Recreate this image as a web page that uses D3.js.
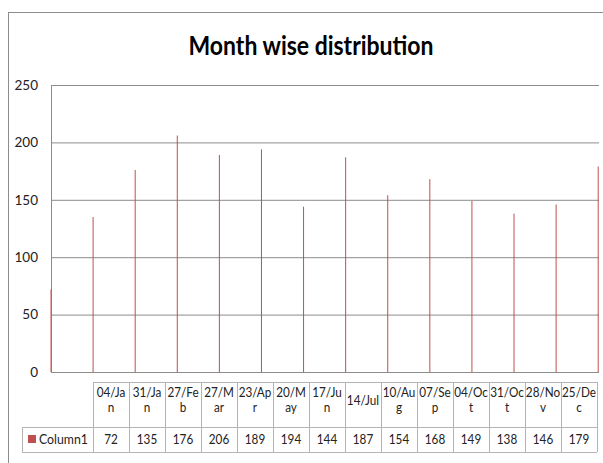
<!DOCTYPE html>
<html>
<head>
<meta charset="utf-8">
<script src="https://cdn.jsdelivr.net/npm/d3@7"></script>
<style>
  body { margin: 0; background: #fff; }
  svg { display: block; }
  text { font-family: Lato, "Open Sans", sans-serif; fill: #222; }
</style>
</head>
<body>
<script>
// chart data
const categories = ['04/Jan', '31/Jan', '27/Feb', '27/Mar', '23/Apr', '20/May', '17/Jun',
                    '14/Jul', '10/Aug', '07/Sep', '04/Oct', '31/Oct', '28/Nov', '25/Dec'];
const values = [72, 135, 176, 206, 189, 194, 144, 187, 154, 168, 149, 138, 146, 179];
const yTicks = [0, 50, 100, 150, 200, 250];
const seriesName = 'Column1';
const title = 'Month wise distribution';

const width = 603, height = 463;
const barColor = '#c0504d';
const gridColor = '#8c8c8c';
const tableColor = '#b4b4b4';
const squeeze = 0.9;     // narrow the table text, the original font is condensed
const wrapScale = 0.937; // width factor used when deciding where labels wrap

const svg = d3.select('body').append('svg')
    .attr('width', width)
    .attr('height', height);

// outer chart border (runs past the right and bottom edge)
svg.append('rect')
    .attr('x', 8.5).attr('y', 12.5)
    .attr('width', 640).attr('height', 500)
    .attr('fill', '#fff')
    .attr('stroke', gridColor)
    .attr('stroke-width', 1);

// title
svg.append('text')
    .attr('x', 311).attr('y', 55)
    .attr('text-anchor', 'middle')
    .attr('font-size', '26px')
    .attr('font-weight', 'bold')
    .attr('textLength', 245)
    .attr('lengthAdjust', 'spacingAndGlyphs')
    .style('fill', '#000')
    .text(title);

// scales
const plot = { left: 51, right: 599, top: 85, bottom: 372 };
const y = d3.scaleLinear().domain([0, 250]).range([plot.bottom, plot.top]);
const x = d3.scalePoint().domain(categories).range([plot.left, plot.right - 0.8]);

// gridlines + y labels
const yAxis = d3.axisLeft(y).tickValues(yTicks).tickSize(-(plot.right - plot.left)).tickPadding(13);
const gy = svg.append('g')
    .attr('transform', `translate(${plot.left},0)`)
    .call(yAxis);
gy.select('.domain').attr('stroke', gridColor);
gy.selectAll('.tick line').attr('stroke', gridColor);
gy.selectAll('.tick text')
    .attr('font-size', '13.5px')
    .attr('font-family', 'Lato, sans-serif')
    .style('fill', '#222');

// bars (hairline columns)
svg.append('g')
    .selectAll('rect')
    .data(values)
    .join('rect')
    .attr('x', (d, i) => x(categories[i]) - 0.5)
    .attr('y', d => y(d))
    .attr('width', 1)
    .attr('height', d => y(0) - y(d))
    .attr('fill', barColor);

// data table
const table = { left: 93, right: 597, top: 382, mid: 427, bottom: 452, legendLeft: 22 };
const col = d3.scaleBand().domain(categories).range([table.left, table.right]);
const tg = svg.append('g').attr('class', 'data-table');

const line = (x1, y1, x2, y2) => tg.append('line')
    .attr('x1', x1).attr('y1', y1).attr('x2', x2).attr('y2', y2)
    .attr('stroke', tableColor).attr('stroke-width', 1);

line(table.left, table.top + 0.5, table.right, table.top + 0.5);
line(table.legendLeft, table.mid + 0.5, table.right, table.mid + 0.5);
line(table.legendLeft, table.bottom + 0.5, table.right, table.bottom + 0.5);
line(table.legendLeft + 0.5, table.mid, table.legendLeft + 0.5, table.bottom);
categories.forEach(c => {
    const cx = Math.round(col(c)) + 0.5;
    line(cx, table.top, cx, table.bottom);
});
line(table.right + 0.5, table.top, table.right + 0.5, table.bottom);

// squeeze a cell text to the narrower width
const fit = t => {
    t.attr('textLength', null);
    const w = t.node().getComputedTextLength();
    t.attr('textLength', w * squeeze).attr('lengthAdjust', 'spacingAndGlyphs');
    return t;
};

const cellText = (cx, cy, str) => tg.append('text')
    .attr('x', cx).attr('y', cy)
    .attr('text-anchor', 'middle')
    .attr('font-size', '13px')
    .text(str);

// header labels, wrapped to the column width like the spreadsheet does
const maxW = col.bandwidth() + 0.3;
categories.forEach(c => {
    const cx = col(c) + col.bandwidth() / 2;
    const t = cellText(cx, 405, c);
    if (t.node().getComputedTextLength() * wrapScale <= maxW) { fit(t); return; }
    let cut = c.length - 1;
    t.text(c.slice(0, cut));
    while (cut > 1 && t.node().getComputedTextLength() * wrapScale > maxW) {
        cut--;
        t.text(c.slice(0, cut));
    }
    fit(t.attr('y', 397));
    fit(cellText(cx, 412, c.slice(cut)));
});

// value row
values.forEach((v, i) => {
    fit(cellText(col(categories[i]) + col.bandwidth() / 2, 444, v));
});

// legend key in the table
tg.append('rect')
    .attr('x', 28).attr('y', 435)
    .attr('width', 8).attr('height', 8)
    .attr('fill', barColor);
tg.append('text')
    .attr('x', 39).attr('y', 444)
    .attr('font-size', '13.5px')
    .attr('textLength', 49)
    .attr('lengthAdjust', 'spacingAndGlyphs')
    .text(seriesName);
</script>
</body>
</html>
